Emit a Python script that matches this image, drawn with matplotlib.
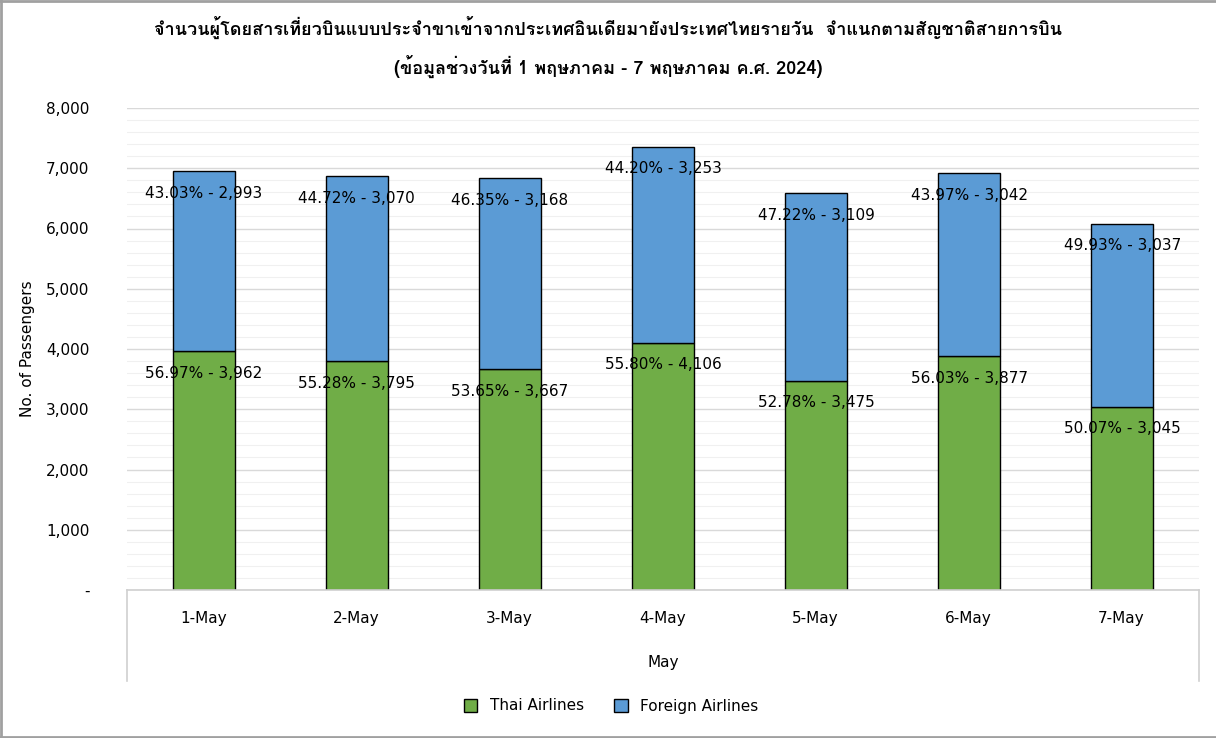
import matplotlib
matplotlib.use("Agg")
import matplotlib.pyplot as plt
from matplotlib import font_manager
from matplotlib.ft2font import FT2Font
from matplotlib.patches import Patch
from matplotlib.lines import Line2D
import numpy as np

days = ["1-May", "2-May", "3-May", "4-May", "5-May", "6-May", "7-May"]
thai = [3962, 3795, 3667, 4106, 3475, 3877, 3045]
foreign = [2993, 3070, 3168, 3253, 3109, 3042, 3037]
thai_pct = ["56.97%", "55.28%", "53.65%", "55.80%", "52.78%", "56.03%", "50.07%"]
foreign_pct = ["43.03%", "44.72%", "46.35%", "44.20%", "47.22%", "43.97%", "49.93%"]

title = ("จำนวนผู้โดยสารเที่ยวบินแบบประจำขาเข้าจากประเทศอินเดียมายังประเทศไทยรายวัน  จำแนกตามสัญชาติสายการบิน\n"
         "(ข้อมูลช่วงวันที่ 1 พฤษภาคม - 7 พฤษภาคม ค.ศ. 2024)")


# find a font that can draw Thai
def thai_font():
    for f in font_manager.fontManager.ttflist:
        try:
            if 0x0E08 in FT2Font(f.fname).get_charmap():
                return f.name
        except Exception:
            pass
    return "DejaVu Sans"


tf = thai_font()
plt.rcParams["font.family"] = ["DejaVu Sans"]

fig = plt.figure(figsize=(12.16, 7.38), dpi=100)
ax = fig.add_axes([127 / 1216, 1 - 590 / 738, 1072 / 1216, 482 / 738])

x = np.arange(len(days))
w = 0.405
green = "#70AD47"
blue = "#5B9BD5"
ax.bar(x, thai, w, color=green, edgecolor="black", linewidth=1, zorder=3)
ax.bar(x, foreign, w, bottom=thai, color=blue, edgecolor="black", linewidth=1, zorder=3)

for i in range(len(days)):
    ax.annotate(thai_pct[i] + " - {:,}".format(thai[i]), (x[i], thai[i]),
                xytext=(0, -16), textcoords="offset points", ha="center", va="center",
                fontsize=11, zorder=4)
    ax.annotate(foreign_pct[i] + " - {:,}".format(foreign[i]), (x[i], thai[i] + foreign[i]),
                xytext=(0, -16), textcoords="offset points", ha="center", va="center",
                fontsize=11, zorder=4)

ax.set_xlim(-0.5, len(days) - 0.5)
ax.set_ylim(0, 8000)
ax.set_yticks(np.arange(0, 8001, 1000))
ax.set_yticks(np.arange(0, 8001, 200), minor=True)
ax.set_yticklabels(["-" if v == 0 else "{:,}".format(v) for v in range(0, 8001, 1000)], fontsize=11)
ax.grid(axis="y", which="major", color="#D9D9D9", linewidth=1, zorder=0)
ax.grid(axis="y", which="minor", color="#F0F0F0", linewidth=0.8, zorder=0)
ax.tick_params(axis="y", which="both", length=0, pad=27)
ax.set_xticks([])
for s in ax.spines.values():
    s.set_visible(False)
ax.set_ylabel("No. of Passengers", fontsize=11, labelpad=14)
ax.yaxis.set_label_coords(-92 / 1072, 0.5)

# category band under the plot
for i, d in enumerate(days):
    fig.text((127 + 153 * (i + 0.5)) / 1216, 1 - 618 / 738, d, ha="center", va="center", fontsize=11)
fig.text(663 / 1216, 1 - 663 / 738, "May", ha="center", va="center", fontsize=11)
band = "#D0D0D0"
fig.add_artist(Line2D([127 / 1216, 1199 / 1216], [1 - 590 / 738] * 2, color=band, lw=1.2))
fig.add_artist(Line2D([127 / 1216] * 2, [1 - 590 / 738, 1 - 681 / 738], color=band, lw=1.2))
fig.add_artist(Line2D([1199 / 1216] * 2, [1 - 590 / 738, 1 - 681 / 738], color=band, lw=1.2))

fig.text(0.5, 1 - 47 / 738, title, ha="center", va="center", fontsize=13, fontweight="bold",
         family=[tf, "DejaVu Sans"], linespacing=1.8)

handles = [Patch(facecolor=green, edgecolor="black", label="Thai Airlines"),
           Patch(facecolor=blue, edgecolor="black", label="Foreign Airlines")]
fig.legend(handles=handles, loc="center", bbox_to_anchor=(611 / 1216, 1 - 706 / 738), ncol=2,
           frameon=False, fontsize=11, handlelength=0.9, handleheight=0.9, columnspacing=2.0)

# outer border: left, top, bottom
edge = "#A0A0A0"
fig.add_artist(Line2D([0.001, 0.001], [0, 1], color=edge, lw=2))
fig.add_artist(Line2D([0, 1], [0.999, 0.999], color=edge, lw=2))
fig.add_artist(Line2D([0, 1], [0.001, 0.001], color=edge, lw=2))

fig.savefig("out.png", dpi=100)
